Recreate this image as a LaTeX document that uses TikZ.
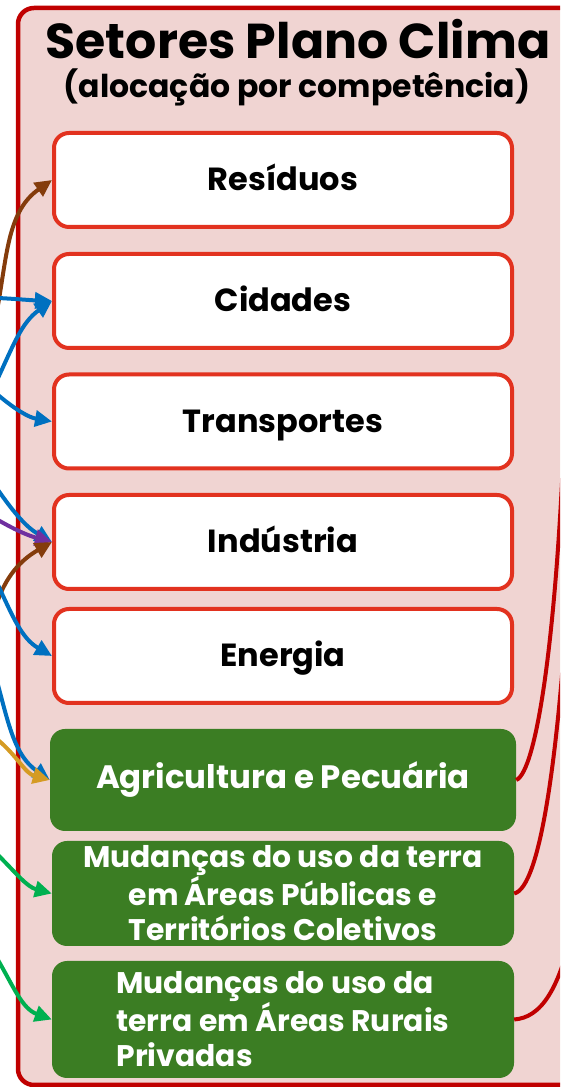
\documentclass[tikz,border=0pt]{standalone}
\usepackage{fontspec}
\setmainfont{Poppins}
\usetikzlibrary{arrows.meta}

\definecolor{moldura}{HTML}{C00000}
\definecolor{fundo}{HTML}{F0D4D2}
\definecolor{borda}{HTML}{E2321F}
\definecolor{verde}{HTML}{3B7D23}
\definecolor{azul}{HTML}{0070C0}
\definecolor{marrom}{HTML}{843C0C}
\definecolor{roxo}{HTML}{7030A0}
\definecolor{ouro}{HTML}{D59B23}
\definecolor{verdeseta}{HTML}{00B050}

\begin{document}
\begin{tikzpicture}[x=1pt, y=1pt, >={Triangle[length=17pt, width=16pt]},
    setor/.style={draw=borda, line width=4pt, fill=white, rounded corners=15pt,
        minimum width=458pt, minimum height=94pt, inner sep=0pt,
        text height=22pt, text depth=0pt, font=\fontsize{32}{38}\selectfont\bfseries},
    setorverde/.style={fill=verde, rounded corners=15pt, text=white, inner sep=0pt,
        minimum width=462pt, align=center, font=\fontsize{29.8}{35}\selectfont\bfseries},
    seta/.style={->, line width=4pt},
    ligacao/.style={moldura, line width=4pt}]
        \useasboundingbox (0,0) rectangle (560,1087);
        \clip (0,0) rectangle (560,1087);

        % Moldura
        \draw[moldura, fill=fundo, line width=4.5pt, rounded corners=16pt]
            (18,2) rectangle (620,1079);
        \node[font=\fontsize{49}{56}\selectfont\bfseries] (titulo) at (298,1048) {Setores Plano Clima};
        \node[font=\fontsize{31.5}{36}\selectfont\bfseries] (subtitulo) at (297,1000) {(alocação por competência)};

        % Setores
        \node[setor] (residuos) at (283,907) {Resíduos};
        \node[setor] (cidades) at (283,786) {Cidades};
        \node[setor] (transportes) at (283,665.5) {Transportes};
        \node[setor] (industria) at (283,545) {Indústria};
        \node[setor] (energia) at (283,431) {Energia};
        \node[setorverde, minimum width=466pt, minimum height=102pt,
            font=\fontsize{32.4}{38}\selectfont\bfseries] (agricultura) at (283,307) {Agricultura e Pecuária};
        \node[setorverde, minimum height=105pt] (mudpub) at (283,193.5)
            {Mudanças do uso da terra\\em Áreas Públicas e\\Territórios Coletivos};
        \node[setorverde, minimum height=117pt, align=left] (mudpriv) at (283,67.5)
            {Mudanças do uso da\\terra em Áreas Rurais\\Privadas};

        % Setas de entrada
        \coordinate (e1) at (-2,782);
        \coordinate (e2) at (-2,789);
        \coordinate (e3) at (-2,709);
        \coordinate (e4) at (-2,692);
        \coordinate (e5) at (-2,597);
        \coordinate (e6) at (-2,567);
        \coordinate (e7) at (-2,487);
        \coordinate (e8) at (-2,502);
        \coordinate (e9) at (-2,402);
        \coordinate (e10) at (-2,347);
        \coordinate (e11) at (-2,232);
        \coordinate (e12) at (-2,127);
        \draw[seta, marrom] (e1) to[out=80, in=215] (residuos.west);
        \draw[seta, azul] (e2) to[out=-3, in=178] (cidades.west);
        \draw[seta, azul] (e3) to[out=65, in=215] (cidades.west);
        \draw[seta, azul] (e4) to[out=-40, in=170] (transportes.west);
        \draw[seta, azul] (e5) to[out=-55, in=150] (industria.west);
        \draw[seta, roxo] (e6) to[out=-30, in=165] (industria.west);
        \draw[seta, marrom] (e7) to[out=70, in=210] (industria.west);
        \draw[seta, azul] (e8) to[out=-65, in=150] (energia.west);
        \draw[seta, azul] (e9) to[out=-75, in=145] (agricultura.west);
        \draw[seta, ouro] (e10) to[out=-40, in=165] (agricultura.west);
        \draw[seta, verdeseta] (e11) to[out=-45, in=165] (mudpub.west);
        \draw[seta, verdeseta] (e12) to[out=-60, in=160] (mudpriv.west);

        % Ligacoes a direita
        \coordinate (s1) at (566,700);
        \coordinate (s2) at (572,560);
        \coordinate (s3) at (575,170);
        \draw[ligacao] (agricultura.east) .. controls +(20,8) and +(-8,-250) .. (s1);
        \draw[ligacao] (mudpub.east) .. controls +(26,6) and +(-12,-230) .. (s2);
        \draw[ligacao] (mudpriv.east) .. controls +(26,2) and +(-15,-75) .. (s3);
    \end{tikzpicture}
\end{document}
